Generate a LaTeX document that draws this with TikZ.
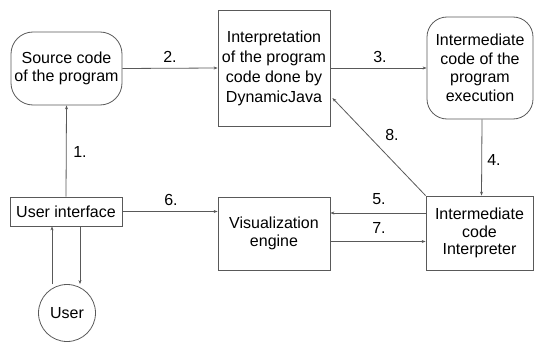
\documentclass[tikz,border=0pt]{standalone}
\usepackage{fontspec}
\setmainfont{Liberation Sans}
\usetikzlibrary{arrows.meta}
\begin{document}
\begin{tikzpicture}[x=1pt,y=-1pt,
  every node/.style={font=\fontsize{16}{17.5}\selectfont},
  box/.style={draw=black!65, line width=0.8pt, align=center, inner sep=1pt},
  rbox/.style={box, rounded corners=22pt},
  conn/.style={draw=black!65, line width=0.8pt, -{Stealth[length=4pt,width=3pt]}},
  lbl/.style={inner sep=0pt}]
\useasboundingbox (0,0) rectangle (534,342);
\node[rbox, minimum width=111pt, minimum height=73pt] (src) at (66.5,68.5) {Source code\\of the program};
\node[box, minimum width=112pt, minimum height=116pt, font=\fontsize{16}{20}\selectfont] (interp) at (274,68) {Interpretation\\of the program\\code done by\\DynamicJava};
\node[rbox, rounded corners=20pt, minimum width=106pt, minimum height=102pt, font=\fontsize{16}{18.5}\selectfont] (icode) at (480,68) {Intermediate\\code of the\\program\\execution};
\node[box, minimum width=107pt, minimum height=74pt] (iint) at (479.5,233) {Intermediate\\code\\Interpreter};
\node[box, minimum width=112pt, minimum height=73pt] (vis) at (274,233.5) {Visualization\\engine};
\node[box, minimum width=112pt, minimum height=29pt] (ui) at (66,211.5) {User interface};
\node[circle, draw=black!65, line width=0.8pt, minimum size=57pt, inner sep=0pt] (user) at (67,313) {User};
\coordinate (p8) at ([shift={(2pt,-30pt)}]interp.east);
\draw[conn] (ui.north) -- (src.south);
\draw[conn] (src.east) -- (interp.west);
\draw[conn] (interp.east) -- (icode.west);
\draw[conn] ([xshift=2pt]icode.south) -- ([xshift=2pt]iint.north);
\draw[conn] ([yshift=20pt]iint.west) -- ([yshift=20pt]iint.west -| vis.east);
\draw[conn] ([yshift=-8pt]vis.east) -- ([yshift=-8pt]vis.east -| iint.west);
\draw[conn] (ui.east) -- (ui.east -| vis.west);
\draw[conn] (iint.north west) -- (p8);
\draw[conn] ([xshift=-14pt]ui.south |- user.north) -- ([xshift=-14pt]ui.south);
\draw[conn] ([xshift=14pt]ui.south) -- ([xshift=14pt]ui.south |- user.north);
\node[lbl] (l1) at (80,152) {1.};
\node[lbl] (l2) at (170,57) {2.};
\node[lbl] (l3) at (380,57) {3.};
\node[lbl] (l4) at (494,160) {4.};
\node[lbl] (l5) at (379,199) {5.};
\node[lbl] (l6) at (171,200) {6.};
\node[lbl] (l7) at (379,228) {7.};
\node[lbl] (l8) at (392,135) {8.};
\end{tikzpicture}
\end{document}
